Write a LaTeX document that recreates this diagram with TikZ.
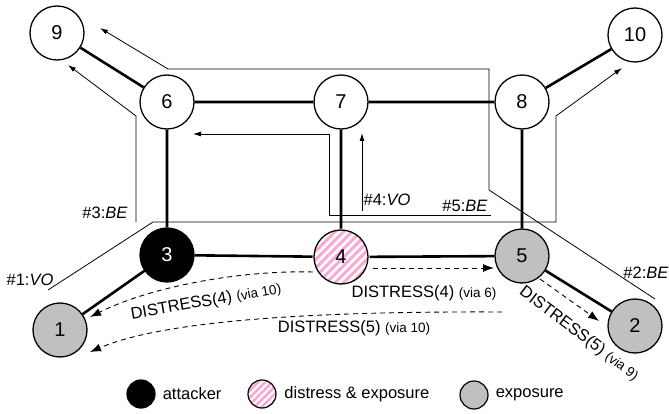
\documentclass[tikz,border=0pt]{standalone}
\usepackage{fontspec}
\setmainfont{Liberation Sans}
\usetikzlibrary{arrows.meta,patterns.meta,positioning}
\definecolor{expgray}{RGB}{192,192,192}
\definecolor{stripepink}{RGB}{249,168,210}
\newcommand{\viatext}[1]{{\fontsize{13.5}{15}\selectfont(via #1)}}

\begin{document}
\begin{tikzpicture}[x=1pt,y=-1pt,
            router/.style={circle,draw,line width=1.3pt,minimum size=54pt,inner sep=0pt,font=\fontsize{20}{22}\selectfont},
            plainnode/.style={router,fill=white},
            attackernode/.style={router,fill=black,text=white},
            exposednode/.style={router,fill=expgray},
            distressnode/.style={router,pattern={Lines[angle=45,distance=6pt,line width=3pt]},pattern color=stripepink},
            legendcirc/.style={circle,draw,line width=1.2pt,minimum size=28pt,inner sep=0pt},
            link/.style={line width=2.6pt},
            msgpath/.style={line width=0.8pt,-{Latex[length=8pt,width=5pt]}},
            distressmsg/.style={line width=0.9pt,dash pattern=on 5pt off 4pt,-{Latex[length=11pt,width=8pt]}},
            lbl/.style={font=\fontsize{16.5}{18}\selectfont,inner sep=1pt}]
            \useasboundingbox (0,0) rectangle (669,414);

            \node[plainnode] (n9) at (57,33) {9};
            \node[plainnode] (n6) at (167,102) {6};
            \node[plainnode] (n7) at (341,102) {7};
            \node[plainnode] (n8) at (522,102) {8};
            \node[plainnode] (n10) at (635,35) {10};
            \node[attackernode] (n3) at (167,255) {3};
            \node[distressnode] (n4) at (341,257) {4};
            \node[exposednode] (n5) at (522,256) {5};
            \node[exposednode] (n1) at (60,330) {1};
            \node[exposednode] (n2) at (635,326) {2};

            \draw[link] (n9) -- (n6) (n6) -- (n7) (n7) -- (n8) (n8) -- (n10)
                (n6) -- (n3) (n7) -- (n4) (n8) -- (n5)
                (n3) -- (n4) (n4) -- (n5) (n3) -- (n1) (n5) -- (n2);

            \coordinate (m1s) at (48,290);
            \coordinate (m1e) at (622,68);
            \coordinate (m2s) at (655,299);
            \coordinate (m2e) at (100,28);
            \coordinate (m3s) at (136,222);
            \coordinate (m3e) at (68,65);
            \coordinate (m4s) at (362,211);
            \coordinate (m4e) at (362,133);
            \coordinate (m5s) at (491,215);
            \coordinate (m5e) at (193,134);
            \draw[msgpath] (m1s) -- (153,222) -- (556,222) -- (556,116) -- (m1e);
            \draw[msgpath] (m2s) -- (489,190) -- (489,69) -- (168,69) -- (m2e);
            \draw[msgpath] (m3s) -- (136,116) -- (m3e);
            \draw[msgpath] (m4s) -- (m4e);
            \draw[msgpath] (m5s) -- (329,215) -- (329,134) -- (m5e);

            \node[lbl] (l1) at (30,280) {\#1:\textit{VO}};
            \node[lbl] (l2) at (646,273) {\#2:\textit{BE}};
            \node[lbl] (l3) at (105,213) {\#3:\textit{BE}};
            \node[lbl] (l4) at (387,200) {\#4:\textit{VO}};
            \node[lbl] (l5) at (465,206) {\#5:\textit{BE}};

            \draw[distressmsg] ([shift={(-28,15)}]n4.center) .. controls (240,270) and (150,287) .. ([shift={(30,-13)}]n1.center);
            \draw[distressmsg] ([shift={(-20,56)}]n5.center) .. controls (300,311) and (160,322) .. ([shift={(30,22)}]n1.center);
            \draw[distressmsg] ([shift={(32,11)}]n4.center) -- ([shift={(-28,12)}]n5.center);
            \draw[distressmsg] ([shift={(18,23)}]n5.center) -- ([shift={(-36,-5)}]n2.center);

            \node[lbl,rotate=10] (d1) at (206,302) {DISTRESS(4) \viatext{10}};
            \node[lbl] (d2) at (354,328) {DISTRESS(5) \viatext{10}};
            \node[lbl] (d3) at (424,293) {DISTRESS(4) \viatext{6}};
            \node[lbl,rotate=-37] (d4) at (579,334) {DISTRESS(5) \viatext{9}};

            \node[legendcirc,fill=black] (k1) at (141,394) {};
            \node[lbl,right=6pt of k1] (t1) {attacker};
            \node[legendcirc,pattern={Lines[angle=45,distance=5pt,line width=2.5pt]},pattern color=stripepink] (k2) at (262,394) {};
            \node[lbl,right=6pt of k2] (t2) {distress \& exposure};
            \node[legendcirc,fill=expgray] (k3) at (474,395) {};
            \node[lbl,right=6pt of k3] (t3) {exposure};
        \end{tikzpicture}
\end{document}
